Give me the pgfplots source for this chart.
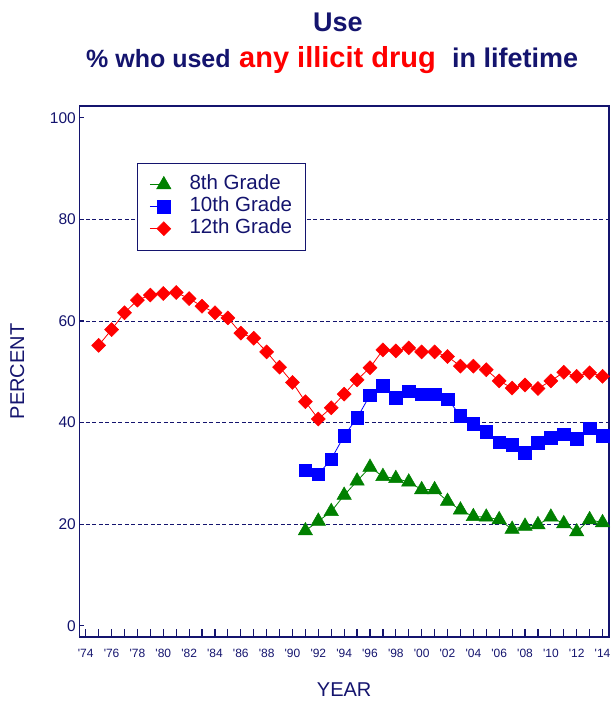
\documentclass[border=0pt]{standalone}
\usepackage{pgfplots}
\pgfplotsset{compat=1.18}
\usepackage{pgfplotstable}
\usepackage{fontspec}
\setmainfont{Liberation Sans}
\definecolor{navy}{RGB}{20,20,110}
\definecolor{mkgreen}{RGB}{0,128,0}
\definecolor{mkblue}{RGB}{0,0,255}
\definecolor{mkred}{RGB}{255,0,0}
\newcommand\q{\textquotesingle}

\pgfplotstableread{
year v
1991 18.7
1992 20.6
1993 22.5
1994 25.7
1995 28.5
1996 31.2
1997 29.4
1998 29.0
1999 28.3
2000 26.8
2001 26.8
2002 24.5
2003 22.8
2004 21.5
2005 21.4
2006 20.9
2007 19.0
2008 19.6
2009 19.9
2010 21.4
2011 20.1
2012 18.5
2013 20.9
2014 20.3
}\eighth

\pgfplotstableread{
year v
1991 30.6
1992 29.8
1993 32.8
1994 37.4
1995 40.9
1996 45.4
1997 47.3
1998 44.9
1999 46.2
2000 45.6
2001 45.6
2002 44.6
2003 41.4
2004 39.8
2005 38.2
2006 36.1
2007 35.6
2008 34.1
2009 36.0
2010 37.0
2011 37.7
2012 36.8
2013 38.9
2014 37.4
}\tenth

\pgfplotstableread{
year v
1975 55.2
1976 58.3
1977 61.6
1978 64.1
1979 65.1
1980 65.4
1981 65.6
1982 64.4
1983 62.9
1984 61.6
1985 60.6
1986 57.6
1987 56.6
1988 53.9
1989 50.9
1990 47.9
1991 44.1
1992 40.7
1993 42.9
1994 45.6
1995 48.4
1996 50.8
1997 54.3
1998 54.1
1999 54.7
2000 53.9
2001 53.9
2002 53.0
2003 51.1
2004 51.1
2005 50.4
2006 48.2
2007 46.8
2008 47.4
2009 46.7
2010 48.2
2011 49.9
2012 49.1
2013 49.8
2014 49.1
}\twelfth

\begin{document}
\begin{tikzpicture}
\useasboundingbox (0,0) rectangle (611bp,705bp);
\begin{axis}[
  at={(79.3bp,68bp)}, anchor=south west,
  scale only axis, width=529.7bp, height=531bp,
  xmin=1973.5, xmax=2014.5, ymin=-2.2, ymax=102.3,
  clip=false,
  axis line style={navy, line width=1.2bp},
  tick style={navy, line width=1.2bp},
  tick align=inside,
  xtick pos=bottom, ytick pos=left,
  xtick={1974,1976,...,2014},
  minor xtick={1975,1977,...,2013},
  xticklabels={\q74,\q76,\q78,\q80,\q82,\q84,\q86,\q88,\q90,\q92,\q94,\q96,\q98,\q00,\q02,\q04,\q06,\q08,\q10,\q12,\q14},
  xtick style={/pgfplots/major tick length=8bp, /pgfplots/minor tick length=8bp},
  ytick={0,20,...,100},
  ytick style={/pgfplots/major tick length=5bp},
  extra y ticks={20,40,60,80},
  extra y tick labels={},
  extra y tick style={grid=major, /pgfplots/major tick length=0pt},
  grid style={navy, dash pattern=on 4bp off 2.5bp, line width=0.8bp},
  /pgf/number format/assume math mode=true,
  xticklabel style={font=\fontsize{12bp}{14bp}\selectfont, text=navy, yshift=-9bp},
  yticklabel style={font=\fontsize{15.5bp}{18bp}\selectfont, text=navy},
  xlabel={YEAR}, ylabel={PERCENT},
  label style={font=\fontsize{20bp}{24bp}\selectfont, text=navy},
  xlabel style={at={(axis description cs:0.5,-0.1)}, anchor=center},
  ylabel style={at={(axis description cs:-0.117,0.5)}, anchor=center},
  legend cell align=left,
  legend image code/.code={\draw[mark repeat=2,mark phase=2,#1] plot coordinates {(0bp,0bp) (14bp,0bp)};},
  legend style={draw=navy, line width=0.8bp, fill=white, text=navy,
    at={(0.109,0.893)}, anchor=north west,
    font=\fontsize{20.5bp}{22bp}\selectfont,
    inner xsep=12bp, inner ysep=10.5bp, row sep=0bp,
    nodes={inner sep=1.5bp, text height=14bp, text depth=5bp},
    /tikz/every odd column/.append style={column sep=17bp}},
]
\addplot[color=mkgreen, line width=0.8bp, mark=triangle*, mark size=8.3bp,
  mark options={solid, fill=mkgreen, draw=mkgreen, line width=0.5bp}] table[x=year,y=v]{\eighth};
\addlegendentry{8th Grade}
\addplot[color=mkblue, line width=0.8bp, mark=square*, mark size=6.3bp,
  mark options={solid, fill=mkblue, draw=mkblue, line width=0.5bp}] table[x=year,y=v]{\tenth};
\addlegendentry{10th Grade}
\addplot[color=mkred, line width=0.8bp, mark=square*, mark size=4.95bp,
  mark options={solid, rotate=45, fill=mkred, draw=mkred, line width=0.5bp}] table[x=year,y=v]{\twelfth};
\addlegendentry{12th Grade}
\end{axis}
\node[anchor=center, text=navy, font=\fontsize{27bp}{32bp}\selectfont\bfseries] at (338bp,683bp) {Use};
\node[anchor=base west, text=navy, font=\fontsize{25bp}{30bp}\selectfont\bfseries, inner sep=0pt] at (86bp,637.5bp) {\% who used};
\node[anchor=base west, text=mkred, font=\fontsize{29bp}{34bp}\selectfont\bfseries, inner sep=0pt] at (239bp,637.5bp) {any illicit drug};
\node[anchor=base west, text=navy, font=\fontsize{27bp}{30bp}\selectfont\bfseries, inner sep=0pt] at (452bp,637.5bp) {in lifetime};
\end{tikzpicture}
\end{document}
